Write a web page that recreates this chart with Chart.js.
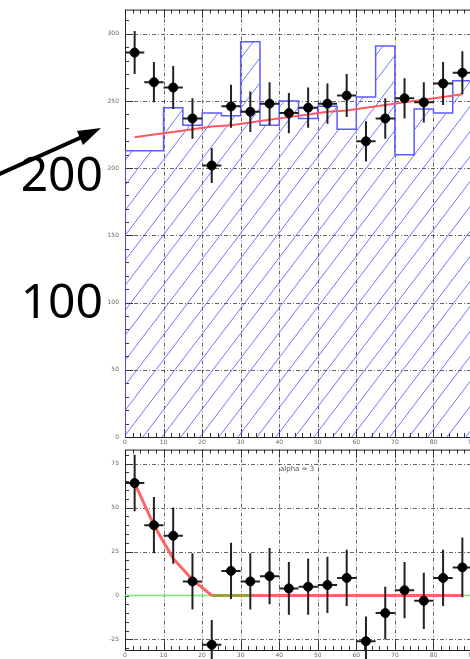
<!DOCTYPE html>
<html>
<head>
<meta charset="utf-8">
<script src="https://cdn.jsdelivr.net/npm/chart.js@4/dist/chart.umd.min.js"></script>
<style>
  body { margin: 0; background: #fff; width: 470px; height: 659px; overflow: hidden; position: relative; font-family: 'Noto Sans', sans-serif; }
  canvas { position: absolute; left: 0; filter: blur(0.5px); }
  #topChart { top: 0; }
  #botChart { top: 440px; }
  .big { position: absolute; left: 0; width: 103px; text-align: right; font-size: 48px; line-height: 48px; color: #000; }
  #note { position: absolute; left: 280px; top: 465px; font-size: 7px; color: #555; font-family: 'DejaVu Sans', sans-serif; }
  svg { position: absolute; left: 0; top: 0; }
</style>
</head>
<body>
<canvas id="topChart" width="480" height="447"></canvas>
<canvas id="botChart" width="480" height="226"></canvas>
<div class="big" style="top:149px">200</div>
<div class="big" style="top:276px">100</div>
<div id="note">alpha = 3</div>
<svg width="120" height="200">
  <line x1="-5" y1="176" x2="82" y2="137" stroke="#000" stroke-width="4"/>
  <polygon points="101,128 83,145 77,131" fill="#000"/>
</svg>
<script>
// x axis (bins of 5)
const xTicks = [0, 10, 20, 30, 40, 50, 60, 70, 80, 90]
const binEdges = [0, 5, 10, 15, 20, 25, 30, 35, 40, 45, 50, 55, 60, 65, 70, 75, 80, 85, 90]
const binCenters = [2.5, 7.5, 12.5, 17.5, 22.5, 27.5, 32.5, 37.5, 42.5, 47.5, 52.5, 57.5, 62.5, 67.5, 72.5, 77.5, 82.5, 87.5]

// top panel
const dataCounts = [286, 264, 260, 237, 202, 246, 242, 248, 241, 245, 248, 254, 220, 237, 252, 249, 263, 271]
const dataErrors = [16, 15, 16, 15, 13, 16, 15, 16, 15, 15, 15, 16, 15, 15, 15, 15, 16, 16]
const mcCounts = [213, 213, 245, 232, 241, 239, 294, 232, 250, 237, 246, 229, 253, 291, 210, 244, 241, 265]
const fitValues = [223, 225, 227, 229, 231, 232, 234, 236, 238, 240, 242, 243, 245, 247, 249, 251, 253, 255]
const topYTicks = [0, 50, 100, 150, 200, 250, 300]

// bottom panel
const diffValues = [64, 40, 34, 8, -28, 14, 8, 11, 4, 5, 6, 10, -26, -10, 3, -3, 10, 16]
const diffErrors = [16, 16, 16, 16, 14, 16, 16, 16, 15, 16, 16, 16, 14, 15, 16, 16, 16, 17]
const diffCurve = [64, 40, 21, 9, 0, 0, 0, 0, 0, 0, 0, 0, 0, 0, 0, 0, 0, 0]
const botYTicks = [-25, 0, 25, 50, 75]

function hatchPattern() {
  const w = 19, h = 25
  const c = document.createElement('canvas')
  c.width = w; c.height = h
  const g = c.getContext('2d')
  g.strokeStyle = 'rgba(70,70,255,0.75)'
  g.lineWidth = 1
  for (const dx of [-w, 0, w]) {
    g.beginPath()
    g.moveTo(dx, h)
    g.lineTo(dx + w, 0)
    g.stroke()
  }
  return g.createPattern(c, 'repeat')
}

// frame, dashed grid and inward minor ticks, ROOT style
const rootFrame = {
  id: 'rootFrame',
  beforeDatasetsDraw(chart, args, opts) {
    const {ctx, chartArea: {left, right, top, bottom}} = chart
    const xs = chart.scales.x, ys = chart.scales.y
    ctx.save()
    ctx.strokeStyle = 'rgba(0,0,0,0.6)'
    ctx.lineWidth = 1
    ctx.setLineDash([4, 2, 1, 2])
    for (const v of opts.xGrid) {
      const px = Math.round(xs.getPixelForValue(v)) + 0.5
      ctx.beginPath(); ctx.moveTo(px, top); ctx.lineTo(px, bottom); ctx.stroke()
    }
    for (const v of opts.yGrid) {
      const py = Math.round(ys.getPixelForValue(v)) + 0.5
      ctx.beginPath(); ctx.moveTo(left, py); ctx.lineTo(right, py); ctx.stroke()
    }
    ctx.setLineDash([])
    ctx.strokeStyle = '#333'
    // minor ticks
    for (let v = xs.min; v <= xs.max + 1e-6; v += opts.xMinor) {
      const px = Math.round(xs.getPixelForValue(v)) + 0.5
      const len = Math.abs(v % 10) < 1e-6 ? 8 : 4
      ctx.beginPath()
      ctx.moveTo(px, bottom); ctx.lineTo(px, bottom - len)
      ctx.moveTo(px, top); ctx.lineTo(px, top + len)
      ctx.stroke()
    }
    const y0 = Math.ceil(ys.min / opts.yMinor) * opts.yMinor
    for (let v = y0; v <= ys.max; v += opts.yMinor) {
      const py = Math.round(ys.getPixelForValue(v)) + 0.5
      const len = opts.yGrid.includes(v) ? 8 : 4
      ctx.beginPath(); ctx.moveTo(left, py); ctx.lineTo(left + len, py); ctx.stroke()
    }
    ctx.strokeStyle = '#222'
    ctx.strokeRect(left + 0.5, top + 0.5, right - left, bottom - top)
    ctx.restore()
  },
  beforeDatasetDraw(chart, args) {
    const ds = chart.data.datasets[args.index]
    if (!ds.errors) return
    const {ctx} = chart
    const xs = chart.scales.x, ys = chart.scales.y
    ctx.save()
    ctx.strokeStyle = '#222'
    ctx.lineWidth = 2
    ds.data.forEach((p, i) => {
      const px = xs.getPixelForValue(p.x)
      const py = ys.getPixelForValue(p.y)
      ctx.beginPath()
      ctx.moveTo(px, ys.getPixelForValue(p.y - ds.errors[i]))
      ctx.lineTo(px, ys.getPixelForValue(p.y + ds.errors[i]))
      ctx.moveTo(xs.getPixelForValue(p.x - 2.5), py)
      ctx.lineTo(xs.getPixelForValue(p.x + 2.5), py)
      ctx.stroke()
    })
    ctx.restore()
  }
}

function axes(yMin, yMax, yTicks, xHeight) {
  const tickFont = {family: 'DejaVu Sans', size: 6}
  return {
    x: {
      type: 'linear', min: xTicks[0], max: xTicks[xTicks.length - 1],
      afterBuildTicks: s => { s.ticks = xTicks.map(v => ({value: v})) },
      afterFit: s => { s.height = xHeight },
      grid: {display: false, drawTicks: false},
      border: {display: false},
      ticks: {font: tickFont, color: '#666', padding: 2, maxRotation: 0}
    },
    y: {
      type: 'linear', min: yMin, max: yMax,
      afterBuildTicks: s => { s.ticks = yTicks.map(v => ({value: v})) },
      afterFit: s => { s.width = 125 },
      grid: {display: false, drawTicks: false},
      border: {display: false},
      ticks: {font: tickFont, color: '#666', padding: 6}
    }
  }
}

const pts = (ys) => binCenters.map((x, i) => ({x: x, y: ys[i]}))
const histPts = []
mcCounts.forEach((v, i) => {
  if (i === 0) histPts.push({x: binEdges[0], y: 0})
  histPts.push({x: binEdges[i], y: v}, {x: binEdges[i + 1], y: v})
})

new Chart(document.getElementById('topChart'), {
  type: 'scatter',
  data: {
    datasets: [
      {label: 'data', data: pts(dataCounts), errors: dataErrors, backgroundColor: '#000', borderColor: '#000', pointRadius: 4.5, order: 0},
      {label: 'fit', data: pts(fitValues), showLine: true, borderColor: '#ff5a5a', borderWidth: 2, pointRadius: 0, order: 1},
      {label: 'mc', data: histPts, showLine: true, borderColor: '#5b5bff', borderWidth: 1.5, pointRadius: 0, fill: 'origin', backgroundColor: hatchPattern(), order: 2}
    ]
  },
  options: {
    responsive: false, animation: false,
    layout: {padding: {left: 0, top: 8, right: 8, bottom: 0}},
    scales: axes(0, 318, topYTicks, 10),
    plugins: {
      legend: {display: false}, tooltip: {enabled: false},
      rootFrame: {xGrid: xTicks.slice(1, -1), yGrid: topYTicks.slice(1), xMinor: 2, yMinor: 10}
    }
  },
  plugins: [rootFrame]
})

new Chart(document.getElementById('botChart'), {
  type: 'scatter',
  data: {
    datasets: [
      {label: 'diff', data: pts(diffValues), errors: diffErrors, backgroundColor: '#000', borderColor: '#000', pointRadius: 4.5, order: 0},
      {label: 'curve', data: pts(diffCurve), showLine: true, borderWidth: 3, pointRadius: 0, order: 1,
        borderColor: '#ff6464',
        segment: {borderColor: c => (c.p0DataIndex >= 4 && c.p0DataIndex < 6) ? '#a0a030' : '#ff6464'}},
      {label: 'zero', data: [{x: xTicks[0], y: 0}, {x: xTicks[xTicks.length - 1], y: 0}], showLine: true, borderColor: '#70f070', borderWidth: 1.5, pointRadius: 0, order: 2}
    ]
  },
  options: {
    responsive: false, animation: false,
    layout: {padding: {left: 0, top: 9, right: 8, bottom: 0}},
    scales: axes(-31, 83, botYTicks, 16),
    plugins: {
      legend: {display: false}, tooltip: {enabled: false},
      rootFrame: {xGrid: xTicks.slice(1, -1), yGrid: [-25, 25, 50, 75], xMinor: 2, yMinor: 5}
    }
  },
  plugins: [rootFrame]
})
</script>
</body>
</html>
